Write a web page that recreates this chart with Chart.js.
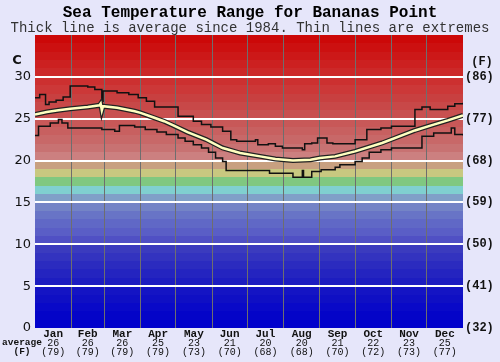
<!DOCTYPE html>
<html>
<head>
<meta charset="utf-8">
<script src="https://cdn.jsdelivr.net/npm/chart.js@4/dist/chart.umd.min.js"></script>
<style>
  body { margin: 0; background: #e6e6fa; }
  canvas { display: block; }
</style>
</head>
<body>
<canvas id="chartSeaTemp" width="500" height="362"></canvas>
<script>
// data
const months = ['Jan', 'Feb', 'Mar', 'Apr', 'May', 'Jun', 'Jul', 'Aug', 'Sep', 'Oct', 'Nov', 'Dec'];
const monthStartDays = [0, 31, 59, 90, 120, 151, 181, 212, 243, 273, 304, 334, 365];
const monthAvgC = [26, 26, 26, 25, 23, 21, 20, 20, 21, 22, 23, 25];
const monthAvgF = [79, 79, 79, 79, 73, 70, 68, 68, 70, 72, 73, 77];

const avgDays  = [0, 10, 20, 30, 45, 55, 56, 57, 58, 70, 85, 90, 100, 110, 118, 130, 146, 160, 175, 192, 205, 220, 235, 243, 256, 273, 296, 324, 340, 352, 365];
const avgTemps = [25.5, 25.8, 26.0, 26.2, 26.4, 26.6, 26.8, 26.0, 26.5, 26.3, 25.9, 25.7, 25.2, 24.7, 24.2, 23.4, 22.5, 21.5, 20.9, 20.5, 20.2, 20.0, 20.1, 20.3, 20.5, 21.1, 22.1, 23.6, 24.3, 24.8, 25.4];

const maxDays  = [0, 4, 9, 12, 18, 24, 30, 45, 51, 57, 58, 70, 80, 88, 95, 102, 122, 135, 142, 150, 160, 167, 172, 188, 190, 199, 205, 211, 228, 230, 236, 241, 249, 254, 273, 283, 295, 304, 324, 330, 337, 352, 358, 365];
const maxTemps = [27.5, 27.9, 26.7, 27.0, 27.2, 27.6, 28.9, 28.8, 28.5, 27.1, 28.3, 28.1, 27.9, 27.5, 27.1, 26.4, 25.3, 24.7, 24.3, 24.0, 23.5, 22.5, 22.3, 22.5, 21.9, 22.0, 21.7, 21.5, 21.3, 22.0, 22.1, 22.7, 22.1, 22.0, 22.5, 23.7, 23.9, 24.1, 26.1, 26.4, 26.1, 26.5, 26.8, 26.9];

const minDays  = [0, 3, 13, 20, 23, 28, 57, 68, 72, 85, 94, 104, 112, 122, 128, 135, 142, 148, 154, 160, 163, 200, 220, 228, 229, 236, 244, 256, 260, 273, 279, 285, 295, 304, 330, 340, 355, 358, 365];
const minTemps = [23.0, 24.1, 24.5, 24.9, 24.5, 23.9, 23.7, 23.5, 24.2, 24.0, 23.7, 23.4, 23.1, 22.7, 22.3, 21.9, 21.5, 21.0, 20.3, 19.9, 18.8, 18.5, 18.0, 18.8, 18.0, 18.7, 18.9, 19.2, 19.5, 19.9, 20.3, 21.0, 21.3, 21.5, 22.9, 23.3, 23.9, 23.1, 23.0];

// one colour per degree, from 0C up to 35C
const bandColors = [
  '#0000cc', '#0404c8', '#0909c8', '#0f0fc4', '#1414c4',
  '#1d1dc0', '#2424c0', '#2b2bbf', '#3333bf', '#3b3bbe',
  '#5050c4', '#5a5ec6', '#6068c6', '#6874c6', '#7484c6',
  '#80a0c8', '#80d0d0', '#80c880', '#c8c880', '#c8a080',
  '#cc8080', '#c87272', '#c86868', '#c86060', '#c85858',
  '#c85050', '#c84848', '#c84040', '#cc3838', '#cc3030',
  '#cc2828', '#cc2020', '#cc1818', '#cc1010', '#cc0808'
];

function toPoints(days, temps) {
  return days.map((d, i) => ({ x: d, y: temps[i] }));
}

const MONO = '"Liberation Mono", "DejaVu Sans Mono", monospace';

// colour bands behind everything
const bandPlugin = {
  id: 'bands',
  beforeDraw(chart) {
    const { ctx, chartArea, scales } = chart;
    ctx.save();
    bandColors.forEach((c, t) => {
      const top = Math.round(scales.y.getPixelForValue(t + 1));
      const bottom = Math.round(scales.y.getPixelForValue(t));
      ctx.fillStyle = c;
      ctx.fillRect(chartArea.left, top, chartArea.right - chartArea.left, bottom - top);
    });
    ctx.restore();
  }
};

// titles, unit labels and the month table under the plot
const textPlugin = {
  id: 'texts',
  afterDraw(chart) {
    const { ctx, scales } = chart;
    ctx.save();
    ctx.textAlign = 'center';
    ctx.textBaseline = 'middle';
    ctx.fillStyle = '#000';
    ctx.font = 'bold 16px ' + MONO;
    ctx.fillText('Sea Temperature Range for Bananas Point', 250, 13);
    ctx.fillStyle = '#333';
    ctx.font = '14px ' + MONO;
    ctx.fillText('Thick line is average since 1984. Thin lines are extremes', 250, 28);

    ctx.fillStyle = '#111';
    ctx.font = 'bold 13px "DejaVu Sans", sans-serif';
    ctx.fillText('C', 17, 61);
    ctx.font = 'bold 12px ' + MONO;
    ctx.fillText('(F)', 482, 62);

    ctx.font = 'bold 9.5px ' + MONO;
    ctx.fillText('average', 22, 343);
    ctx.fillText('(F)', 22, 352);

    months.forEach((m, i) => {
      const cx = scales.x.getPixelForValue((monthStartDays[i] + monthStartDays[i + 1]) / 2);
      ctx.font = 'bold 11px ' + MONO;
      ctx.fillText(m, cx, 334);
      ctx.font = '10px ' + MONO;
      ctx.fillText(String(monthAvgC[i]), cx, 343);
      ctx.fillText('(' + monthAvgF[i] + ')', cx, 352);
    });
    ctx.restore();
  }
};

new Chart(document.getElementById('chartSeaTemp'), {
  type: 'line',
  data: {
    datasets: [
      { label: 'average', data: toPoints(avgDays, avgTemps), borderColor: '#ffffc0', borderWidth: 2.5, pointRadius: 0, order: 0 },
      { label: 'avg outline', data: toPoints(avgDays, avgTemps), borderColor: '#222', borderWidth: 5, pointRadius: 0, order: 1 },
      { label: 'max', data: toPoints(maxDays, maxTemps), borderColor: '#111', borderWidth: 1.5, stepped: true, pointRadius: 0, order: 2 },
      { label: 'min', data: toPoints(minDays, minTemps), borderColor: '#111', borderWidth: 1.5, stepped: true, pointRadius: 0, order: 3 }
    ]
  },
  options: {
    responsive: false,
    animation: false,
    layout: { padding: { top: 35, left: 0, right: 0, bottom: 0 } },
    plugins: { legend: { display: false }, tooltip: { enabled: false } },
    scales: {
      x: {
        type: 'linear',
        min: 0,
        max: 365,
        afterBuildTicks: s => { s.ticks = monthStartDays.map(v => ({ value: v })); },
        afterFit: s => { s.height = 34; },
        ticks: { display: false },
        border: { display: false },
        grid: {
          drawTicks: false,
          lineWidth: 1,
          color: c => (c.index === 0 || c.index === 12) ? 'rgba(0,0,0,0)' : '#6e6e6e'
        }
      },
      y: {
        position: 'left',
        min: 0,
        max: 35,
        afterFit: s => { s.width = 35; },
        border: { display: false },
        grid: {
          drawTicks: false,
          lineWidth: 2,
          color: c => (c.tick.value > 0 && c.tick.value < 35) ? '#ffffff' : 'rgba(0,0,0,0)'
        },
        ticks: {
          stepSize: 5,
          padding: 4,
          color: '#111',
          font: { family: '"DejaVu Sans", sans-serif', size: 13 },
          callback: v => v === 35 ? '' : v
        }
      },
      y2: {
        position: 'right',
        min: 0,
        max: 35,
        afterFit: s => { s.width = 37; },
        border: { display: false },
        grid: { display: false, drawTicks: false },
        ticks: {
          stepSize: 5,
          padding: 2,
          color: '#111',
          font: { family: MONO, size: 12, weight: 'bold' },
          callback: v => v === 35 ? '' : '(' + Math.round(v * 9 / 5 + 32) + ')'
        }
      }
    }
  },
  plugins: [bandPlugin, textPlugin]
});
</script>
</body>
</html>
